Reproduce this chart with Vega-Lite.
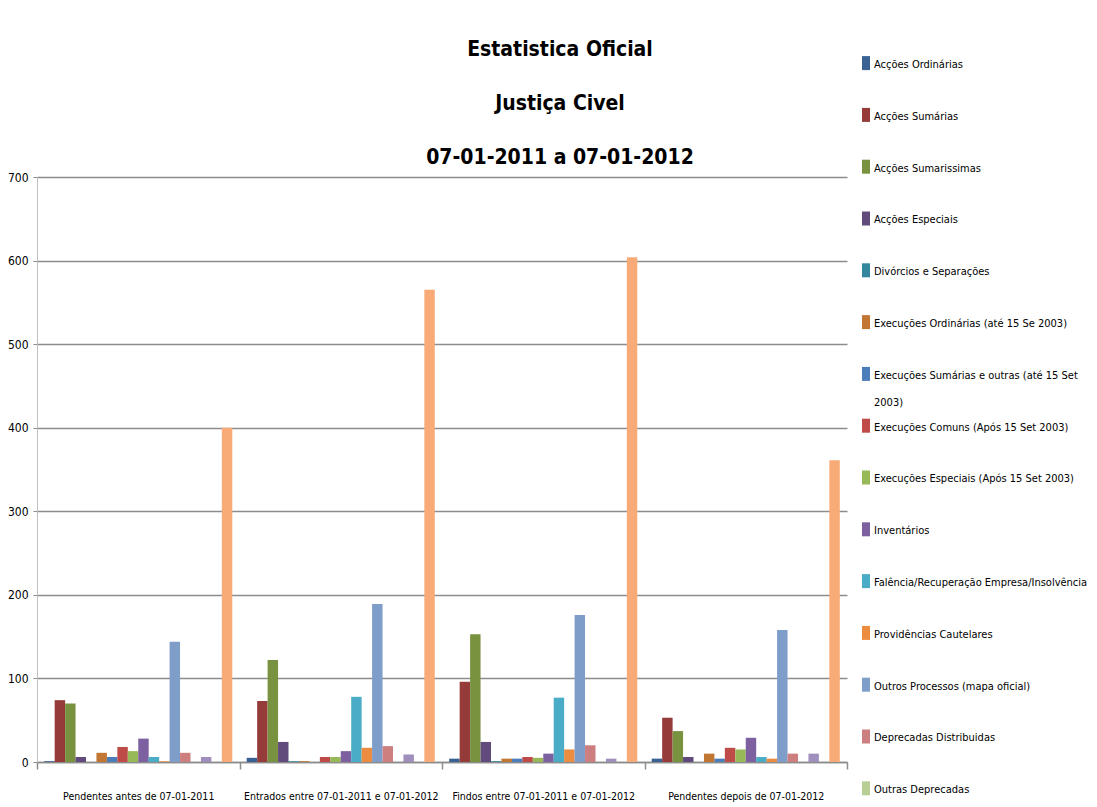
{
  "$schema": "https://vega.github.io/schema/vega-lite/v6.json",
  "autosize": "none",
  "width": 810,
  "height": 585,
  "padding": {"left": 37, "top": 177, "right": 250, "bottom": 45},
  "background": "white",
  "title": {
    "text": ["Estatistica Oficial", "Justiça Civel", "07-01-2011 a 07-01-2012"],
    "font": "'DejaVu Sans Condensed', 'Lato', sans-serif",
    "fontSize": 21,
    "fontWeight": "bold",
    "lineHeight": 54,
    "anchor": "middle",
    "dx": 118,
    "offset": -107,
    "color": "black"
  },
  "datasets": {
    "mapa": [
      {"periodo": "Pendentes antes de 07-01-2011", "tipo": "Acções Ordinárias", "valor": 1},
      {"periodo": "Pendentes antes de 07-01-2011", "tipo": "Acções Sumárias", "valor": 74},
      {"periodo": "Pendentes antes de 07-01-2011", "tipo": "Acções Sumarissimas", "valor": 70},
      {"periodo": "Pendentes antes de 07-01-2011", "tipo": "Acções Especiais", "valor": 6},
      {"periodo": "Pendentes antes de 07-01-2011", "tipo": "Divórcios e Separações", "valor": 0},
      {"periodo": "Pendentes antes de 07-01-2011", "tipo": "Execuções Ordinárias (até 15 Se 2003)", "valor": 11},
      {"periodo": "Pendentes antes de 07-01-2011", "tipo": "Execuções Sumárias e outras (até 15 Set 2003)", "valor": 6},
      {"periodo": "Pendentes antes de 07-01-2011", "tipo": "Execuções Comuns (Após 15 Set 2003)", "valor": 18},
      {"periodo": "Pendentes antes de 07-01-2011", "tipo": "Execuções Especiais (Após 15 Set 2003)", "valor": 13},
      {"periodo": "Pendentes antes de 07-01-2011", "tipo": "Inventários", "valor": 28},
      {"periodo": "Pendentes antes de 07-01-2011", "tipo": "Falência/Recuperação Empresa/Insolvência", "valor": 6},
      {"periodo": "Pendentes antes de 07-01-2011", "tipo": "Providências Cautelares", "valor": 1},
      {"periodo": "Pendentes antes de 07-01-2011", "tipo": "Outros Processos (mapa oficial)", "valor": 144},
      {"periodo": "Pendentes antes de 07-01-2011", "tipo": "Deprecadas Distribuidas", "valor": 11},
      {"periodo": "Pendentes antes de 07-01-2011", "tipo": "Outras Deprecadas", "valor": 0},
      {"periodo": "Pendentes antes de 07-01-2011", "tipo": "Cartas Precatórias", "valor": 6},
      {"periodo": "Pendentes antes de 07-01-2011", "tipo": "Cartas Rogatórias", "valor": 0},
      {"periodo": "Pendentes antes de 07-01-2011", "tipo": "Total", "valor": 400},

      {"periodo": "Entrados entre 07-01-2011 e 07-01-2012", "tipo": "Acções Ordinárias", "valor": 5},
      {"periodo": "Entrados entre 07-01-2011 e 07-01-2012", "tipo": "Acções Sumárias", "valor": 73},
      {"periodo": "Entrados entre 07-01-2011 e 07-01-2012", "tipo": "Acções Sumarissimas", "valor": 122},
      {"periodo": "Entrados entre 07-01-2011 e 07-01-2012", "tipo": "Acções Especiais", "valor": 24},
      {"periodo": "Entrados entre 07-01-2011 e 07-01-2012", "tipo": "Divórcios e Separações", "valor": 1},
      {"periodo": "Entrados entre 07-01-2011 e 07-01-2012", "tipo": "Execuções Ordinárias (até 15 Se 2003)", "valor": 1},
      {"periodo": "Entrados entre 07-01-2011 e 07-01-2012", "tipo": "Execuções Sumárias e outras (até 15 Set 2003)", "valor": 0},
      {"periodo": "Entrados entre 07-01-2011 e 07-01-2012", "tipo": "Execuções Comuns (Após 15 Set 2003)", "valor": 6},
      {"periodo": "Entrados entre 07-01-2011 e 07-01-2012", "tipo": "Execuções Especiais (Após 15 Set 2003)", "valor": 6},
      {"periodo": "Entrados entre 07-01-2011 e 07-01-2012", "tipo": "Inventários", "valor": 13},
      {"periodo": "Entrados entre 07-01-2011 e 07-01-2012", "tipo": "Falência/Recuperação Empresa/Insolvência", "valor": 78},
      {"periodo": "Entrados entre 07-01-2011 e 07-01-2012", "tipo": "Providências Cautelares", "valor": 17},
      {"periodo": "Entrados entre 07-01-2011 e 07-01-2012", "tipo": "Outros Processos (mapa oficial)", "valor": 189},
      {"periodo": "Entrados entre 07-01-2011 e 07-01-2012", "tipo": "Deprecadas Distribuidas", "valor": 19},
      {"periodo": "Entrados entre 07-01-2011 e 07-01-2012", "tipo": "Outras Deprecadas", "valor": 0},
      {"periodo": "Entrados entre 07-01-2011 e 07-01-2012", "tipo": "Cartas Precatórias", "valor": 9},
      {"periodo": "Entrados entre 07-01-2011 e 07-01-2012", "tipo": "Cartas Rogatórias", "valor": 0},
      {"periodo": "Entrados entre 07-01-2011 e 07-01-2012", "tipo": "Total", "valor": 565},

      {"periodo": "Findos entre 07-01-2011 e 07-01-2012", "tipo": "Acções Ordinárias", "valor": 4},
      {"periodo": "Findos entre 07-01-2011 e 07-01-2012", "tipo": "Acções Sumárias", "valor": 96},
      {"periodo": "Findos entre 07-01-2011 e 07-01-2012", "tipo": "Acções Sumarissimas", "valor": 153},
      {"periodo": "Findos entre 07-01-2011 e 07-01-2012", "tipo": "Acções Especiais", "valor": 24},
      {"periodo": "Findos entre 07-01-2011 e 07-01-2012", "tipo": "Divórcios e Separações", "valor": 1},
      {"periodo": "Findos entre 07-01-2011 e 07-01-2012", "tipo": "Execuções Ordinárias (até 15 Se 2003)", "valor": 4},
      {"periodo": "Findos entre 07-01-2011 e 07-01-2012", "tipo": "Execuções Sumárias e outras (até 15 Set 2003)", "valor": 4},
      {"periodo": "Findos entre 07-01-2011 e 07-01-2012", "tipo": "Execuções Comuns (Após 15 Set 2003)", "valor": 6},
      {"periodo": "Findos entre 07-01-2011 e 07-01-2012", "tipo": "Execuções Especiais (Após 15 Set 2003)", "valor": 5},
      {"periodo": "Findos entre 07-01-2011 e 07-01-2012", "tipo": "Inventários", "valor": 10},
      {"periodo": "Findos entre 07-01-2011 e 07-01-2012", "tipo": "Falência/Recuperação Empresa/Insolvência", "valor": 77},
      {"periodo": "Findos entre 07-01-2011 e 07-01-2012", "tipo": "Providências Cautelares", "valor": 15},
      {"periodo": "Findos entre 07-01-2011 e 07-01-2012", "tipo": "Outros Processos (mapa oficial)", "valor": 176},
      {"periodo": "Findos entre 07-01-2011 e 07-01-2012", "tipo": "Deprecadas Distribuidas", "valor": 20},
      {"periodo": "Findos entre 07-01-2011 e 07-01-2012", "tipo": "Outras Deprecadas", "valor": 0},
      {"periodo": "Findos entre 07-01-2011 e 07-01-2012", "tipo": "Cartas Precatórias", "valor": 4},
      {"periodo": "Findos entre 07-01-2011 e 07-01-2012", "tipo": "Cartas Rogatórias", "valor": 0},
      {"periodo": "Findos entre 07-01-2011 e 07-01-2012", "tipo": "Total", "valor": 604},

      {"periodo": "Pendentes depois de 07-01-2012", "tipo": "Acções Ordinárias", "valor": 4},
      {"periodo": "Pendentes depois de 07-01-2012", "tipo": "Acções Sumárias", "valor": 53},
      {"periodo": "Pendentes depois de 07-01-2012", "tipo": "Acções Sumarissimas", "valor": 37},
      {"periodo": "Pendentes depois de 07-01-2012", "tipo": "Acções Especiais", "valor": 6},
      {"periodo": "Pendentes depois de 07-01-2012", "tipo": "Divórcios e Separações", "valor": 0},
      {"periodo": "Pendentes depois de 07-01-2012", "tipo": "Execuções Ordinárias (até 15 Se 2003)", "valor": 10},
      {"periodo": "Pendentes depois de 07-01-2012", "tipo": "Execuções Sumárias e outras (até 15 Set 2003)", "valor": 4},
      {"periodo": "Pendentes depois de 07-01-2012", "tipo": "Execuções Comuns (Após 15 Set 2003)", "valor": 17},
      {"periodo": "Pendentes depois de 07-01-2012", "tipo": "Execuções Especiais (Após 15 Set 2003)", "valor": 15},
      {"periodo": "Pendentes depois de 07-01-2012", "tipo": "Inventários", "valor": 29},
      {"periodo": "Pendentes depois de 07-01-2012", "tipo": "Falência/Recuperação Empresa/Insolvência", "valor": 6},
      {"periodo": "Pendentes depois de 07-01-2012", "tipo": "Providências Cautelares", "valor": 4},
      {"periodo": "Pendentes depois de 07-01-2012", "tipo": "Outros Processos (mapa oficial)", "valor": 158},
      {"periodo": "Pendentes depois de 07-01-2012", "tipo": "Deprecadas Distribuidas", "valor": 10},
      {"periodo": "Pendentes depois de 07-01-2012", "tipo": "Outras Deprecadas", "valor": 0},
      {"periodo": "Pendentes depois de 07-01-2012", "tipo": "Cartas Precatórias", "valor": 10},
      {"periodo": "Pendentes depois de 07-01-2012", "tipo": "Cartas Rogatórias", "valor": 0},
      {"periodo": "Pendentes depois de 07-01-2012", "tipo": "Total", "valor": 361}
    ]
  },
  "data": {"name": "mapa"},
  "mark": {"type": "bar"},
  "encoding": {
    "x": {
      "field": "periodo",
      "type": "nominal",
      "sort": null,
      "scale": {"paddingInner": 0, "paddingOuter": 0},
      "axis": {
        "title": null,
        "labelAngle": 0,
        "tickBand": "extent",
        "tickSize": 7,
        "tickColor": "#8C8C8C",
        "tickWidth": 1.5,
        "domainColor": "#8C8C8C",
        "domainWidth": 1.5,
        "labelPadding": 22,
        "labelFont": "'DejaVu Sans Condensed', 'Lato', sans-serif",
        "labelFontSize": 10.5,
        "labelColor": "black",
        "labelLimit": 300,
        "grid": false
      }
    },
    "xOffset": {
      "field": "tipo",
      "sort": null,
      "scale": {"paddingInner": 0, "paddingOuter": 0.69}
    },
    "y": {
      "field": "valor",
      "type": "quantitative",
      "scale": {"domain": [0, 700]},
      "axis": {
        "title": null,
        "values": [0, 100, 200, 300, 400, 500, 600, 700],
        "grid": true,
        "gridColor": "#8C8C8C",
        "gridWidth": 1.5,
        "domainColor": "#BFBFBF",
        "domainWidth": 1,
        "tickColor": "#8C8C8C",
        "tickSize": 4,
        "labelPadding": 5,
        "labelFont": "'DejaVu Sans Condensed', 'Lato', sans-serif",
        "labelFontSize": 12,
        "labelColor": "black"
      }
    },
    "color": {
      "field": "tipo",
      "type": "nominal",
      "scale": {
        "domain": [
          "Acções Ordinárias", "Acções Sumárias", "Acções Sumarissimas", "Acções Especiais",
          "Divórcios e Separações", "Execuções Ordinárias (até 15 Se 2003)",
          "Execuções Sumárias e outras (até 15 Set 2003)", "Execuções Comuns (Após 15 Set 2003)",
          "Execuções Especiais (Após 15 Set 2003)", "Inventários",
          "Falência/Recuperação Empresa/Insolvência", "Providências Cautelares",
          "Outros Processos (mapa oficial)", "Deprecadas Distribuidas", "Outras Deprecadas",
          "Cartas Precatórias", "Cartas Rogatórias", "Total"
        ],
        "range": [
          "#3A6193", "#953B3A", "#789240", "#614A7C", "#32869D", "#C27634",
          "#4A7DBA", "#BE4B48", "#97B957", "#7D60A0", "#4AACC6", "#EB8C40",
          "#7F9DC9", "#CC7F7E", "#B9CE95", "#A08FBD", "#7FC3D8", "#F8AB76"
        ]
      },
      "legend": {
        "orient": "none",
        "legendX": 822,
        "legendY": -116,
        "title": null,
        "padding": 0,
        "values": [
          "Acções Ordinárias", "Acções Sumárias", "Acções Sumarissimas", "Acções Especiais",
          "Divórcios e Separações", "Execuções Ordinárias (até 15 Se 2003)",
          "Execuções Sumárias e outras (até 15 Set 2003)", "Execuções Comuns (Após 15 Set 2003)",
          "Execuções Especiais (Após 15 Set 2003)", "Inventários",
          "Falência/Recuperação Empresa/Insolvência", "Providências Cautelares",
          "Outros Processos (mapa oficial)", "Deprecadas Distribuidas", "Outras Deprecadas"
        ],
        "labelExpr": "datum.label == 'Execuções Sumárias e outras (até 15 Set 2003)' ? ['Execuções Sumárias e outras (até 15 Set', '2003)'] : [datum.label, '']",
        "labelFont": "'DejaVu Sans Condensed', 'Lato', sans-serif",
        "labelFontSize": 11,
        "labelColor": "black",
        "labelLimit": 300,
        "labelBaseline": "alphabetic",
        "labelOffset": 1,
        "symbolType": "M-0.57,-1.7H0.57V0.3H-0.57Z",
        "symbolSize": 196,
        "symbolStrokeWidth": 0,
        "gridAlign": "each",
        "rowPadding": 10.8
      }
    }
  },
  "config": {
    "view": {"stroke": null},
    "style": {"guide-label": {"lineHeight": 27}}
  }
}
